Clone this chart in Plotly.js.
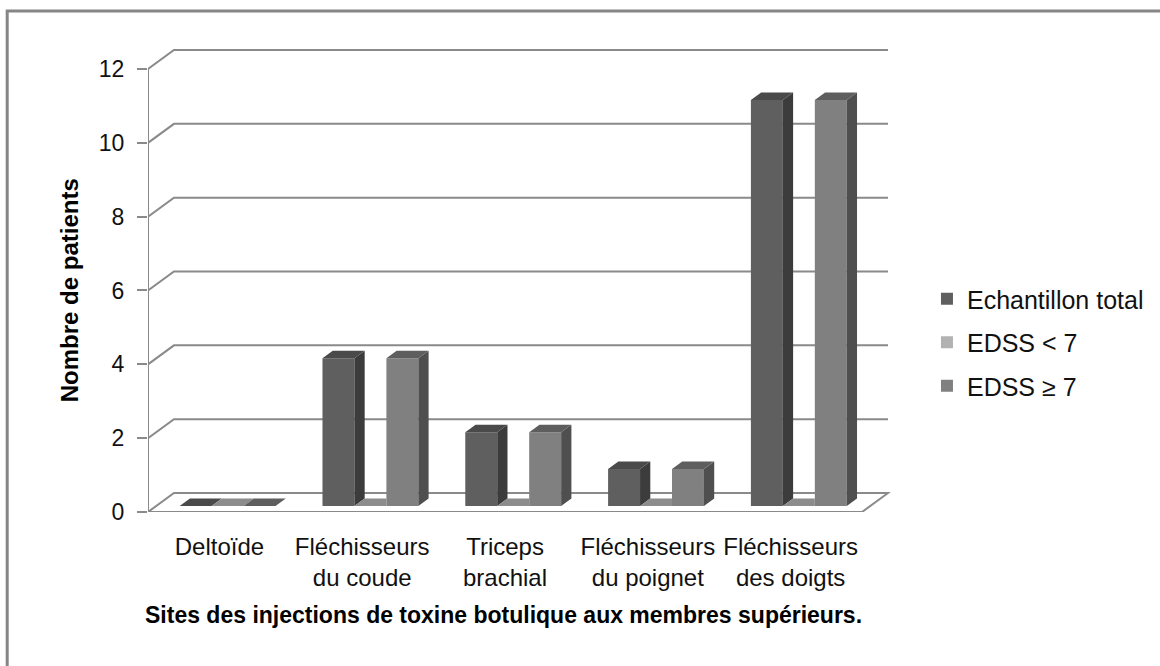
<!DOCTYPE html>
<html>
<head>
<meta charset="utf-8">
<script src="https://cdn.plot.ly/plotly-3.0.1.min.js"></script>
<style>html,body{margin:0;padding:0;background:#fff;}#chart{width:1160px;height:666px;}</style>
</head>
<body>
<div id="chart"></div>
<script>
// ---------- data ----------
const categories = ["Deltoïde", "Fléchisseurs<br>du coude", "Triceps<br>brachial", "Fléchisseurs<br>du poignet", "Fléchisseurs<br>des doigts"];
const seriesNames = ["Echantillon total", "EDSS < 7", "EDSS ≥ 7"];
const echantillonTotal = [0, 4, 2, 1, 11];
const edssInf7 = [0, 0, 0, 0, 0];
const edssSup7 = [0, 4, 2, 1, 11];
const yTickValues = [0, 2, 4, 6, 8, 10, 12];

// ---------- style ----------
const FONT = "Liberation Sans, Arial, sans-serif";
const GRID = "#8a8a8a";
const colors = [
  {front: "#5f5f5f", top: "#4a4a4a", side: "#3c3c3c"},
  {front: "#b2b2b2", top: "#8c8c8c", side: "#747474"},
  {front: "#808080", top: "#5e5e5e", side: "#4f4f4f"}
];
// 3D geometry (axis units): floor depth vector, bar front/back depth, bar width
const DXu = 26 / 143, DVv = 19 / 36.92;
const D1 = 6 / 19, D2 = 13.5 / 19;
const W = 32 / 143;
const nCat = categories.length;
const xMin = -0.5, xMax = 4.7028;

const seriesValues = [echantillonTotal, edssInf7, edssSup7];
const idx = categories.map((_, i) => i);

function proj(u, v, d) { return [u + d * DXu, v + d * DVv]; }

const traces = [];
// front faces: real bar traces
seriesValues.forEach((vals, k) => {
  traces.push({
    type: "bar", name: seriesNames[k],
    x: idx.map(i => i + D1 * DXu),
    y: vals,
    base: vals.map(() => D1 * DVv),
    width: W, offset: (-1.5 + k) * W,
    marker: {color: colors[k].front, line: {width: 0}},
    legendgroup: "g" + k,
    hoverinfo: "skip"
  });
});
// side and top faces
seriesValues.forEach((vals, k) => {
  const side = {x: [], y: []}, top = {x: [], y: []};
  vals.forEach((v, i) => {
    const uL = i + (-1.5 + k) * W, uR = uL + W;
    if (v > 0) {
      [[uR, v, D1], [uR, 0, D1], [uR, 0, D2], [uR, v, D2]].forEach(p => {
        const q = proj(...p); side.x.push(q[0]); side.y.push(q[1]);
      });
      side.x.push(null); side.y.push(null);
    }
    const next = k < seriesValues.length - 1 ? seriesValues[k + 1][i] : 0;
    let pts;
    if (next > v) {
      const a = proj(uL, v, D1), b = proj(uR, v, D1), d = proj(uL, v, D2);
      pts = [a, b, [uR + D1 * DXu, v + D2 * DVv], d];
    } else {
      pts = [proj(uL, v, D1), proj(uR, v, D1), proj(uR, v, D2), proj(uL, v, D2)];
    }
    pts.forEach(q => { top.x.push(q[0]); top.y.push(q[1]); });
    top.x.push(null); top.y.push(null);
  });
  traces.push({type: "scatter", mode: "lines", x: side.x, y: side.y, fill: "toself",
    fillcolor: colors[k].side, line: {width: 0, color: colors[k].side}, showlegend: false, hoverinfo: "skip"});
  traces.push({type: "scatter", mode: "lines", x: top.x, y: top.y, fill: "toself",
    fillcolor: colors[k].top, line: {width: 0, color: colors[k].top}, showlegend: false, hoverinfo: "skip"});
});

// back-wall gridlines, floor, vertical axis line (below traces)
const shapes = [];
const xL = -0.5, xR = nCat - 0.5;
yTickValues.forEach(v => {
  if (v === 0) return;
  shapes.push({type: "path", layer: "below", xref: "x", yref: "y",
    path: `M${xL},${v} L${xL + DXu},${v + DVv} L${xR + DXu},${v + DVv}`,
    line: {color: GRID, width: 2}});
});
shapes.push({type: "path", layer: "below", xref: "x", yref: "y",
  path: `M${xL},0 L${xR},0 L${xR + DXu},${DVv} L${xL + DXu},${DVv} Z`,
  line: {color: GRID, width: 2}});
shapes.push({type: "line", layer: "below", xref: "x", yref: "y",
  x0: xL, x1: xL, y0: 0, y1: yTickValues[yTickValues.length - 1],
  line: {color: GRID, width: 2}});
// chart-area border (left and top edges)
shapes.push({type: "path", xref: "paper", yref: "paper",
  path: "M-0.1895,-0.40 L-0.1895,1.0614 L1.40,1.0614",
  line: {color: "#868686", width: 3}});

const layout = {
  width: 1160, height: 666,
  margin: {l: 148, r: 268, t: 40, b: 154},
  paper_bgcolor: "#ffffff", plot_bgcolor: "rgba(0,0,0,0)",
  font: {family: FONT, color: "#111111", size: 23},
  barmode: "overlay",
  showlegend: true,
  legend: {x: 1.047, y: 0.50, xanchor: "left", yanchor: "top",
    font: {family: FONT, size: 25, color: "#111111"},
    tracegroupgap: 8, traceorder: "grouped", bgcolor: "rgba(0,0,0,0)"},
  xaxis: {range: [xMin, xMax], tickmode: "array", tickvals: idx, ticktext: categories,
    ticks: "", showgrid: false, zeroline: false, showline: false, fixedrange: true,
    ticklabelstandoff: 18, tickfont: {family: FONT, size: 24, color: "#111111"}},
  xaxis2: {range: [xMin, xMax], overlaying: "x", anchor: "y", side: "bottom",
    tickmode: "array", tickvals: [-0.5, 0.5, 1.5, 2.5, 3.5, 4.5], showticklabels: false,
    ticks: "outside", ticklen: 8, tickwidth: 2, tickcolor: GRID,
    showgrid: false, zeroline: false, showline: false},
  yaxis: {range: [0, 12.785], tickmode: "array", tickvals: yTickValues,
    ticks: "outside", ticklen: 10, tickwidth: 2, tickcolor: GRID,
    showgrid: false, zeroline: false, showline: false, ticklabelstandoff: 8,
    tickfont: {family: FONT, size: 23, color: "#111111"}},
  shapes: shapes,
  annotations: [{
    text: "<b>Sites des injections de toxine botulique aux membres supérieurs.</b>",
    xref: "paper", yref: "paper", x: 0.4785, y: -0.218, xanchor: "center", yanchor: "middle",
    showarrow: false, font: {family: FONT, size: 23, color: "#000000"}
  }, {
    text: "<b>Nombre de patients</b>",
    xref: "paper", yref: "paper", x: -0.1062, y: 0.470, xanchor: "center", yanchor: "middle",
    textangle: -90, showarrow: false, font: {family: FONT, size: 24, color: "#000000"}
  }]
};

Plotly.newPlot("chart", traces, layout, {displayModeBar: false, staticPlot: true});
</script>
</body>
</html>
